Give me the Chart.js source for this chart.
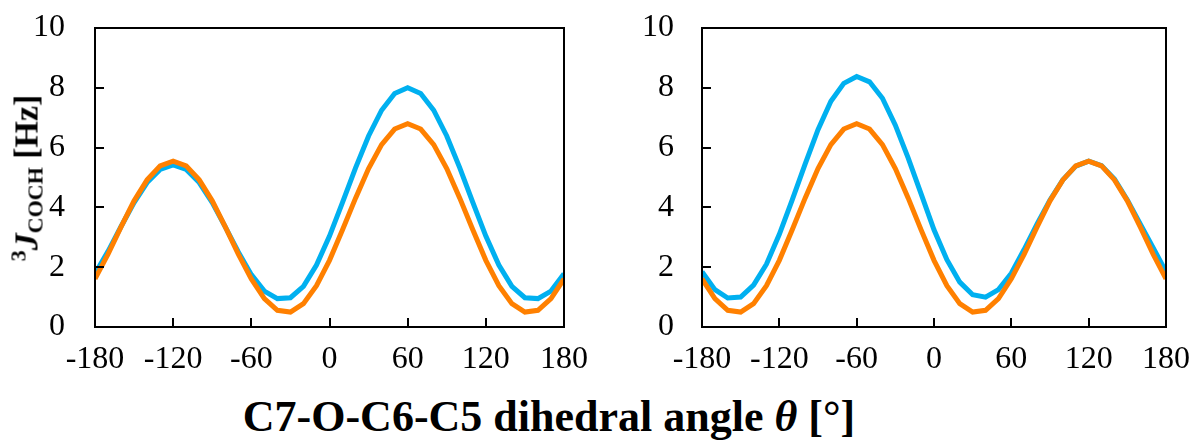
<!DOCTYPE html>
<html>
<head>
<meta charset="utf-8">
<script src="https://cdn.jsdelivr.net/npm/chart.js@4/dist/chart.umd.min.js"></script>
<style>
  body { margin: 0; background: #fff; }
  #wrap { position: relative; width: 1192px; height: 440px; overflow: hidden; font-family: "Liberation Serif", "Times New Roman", serif; }
  canvas { position: absolute; top: 0; }
  #ytitle {
    position: absolute; left: 27px; top: 178px;
    transform: translate(-50%, -50%) rotate(-90deg);
    white-space: nowrap; font-weight: bold; font-size: 34px; line-height: 1;
  }
  #ytitle sup { font-size: 22px; vertical-align: 12px; font-weight: bold; }
  #ytitle sub { font-size: 22px; vertical-align: -5px; }
  #xtitle {
    position: absolute; left: 549px; top: 417px;
    transform: translate(-50%, -50%);
    white-space: nowrap; font-weight: bold; font-size: 44px; line-height: 1;
  }
</style>
</head>
<body>
<div id="wrap">
  <canvas id="left" width="596" height="380" style="left:0"></canvas>
  <canvas id="right" width="596" height="380" style="left:596px"></canvas>
  <div id="ytitle"><sup>3</sup><i>J</i><sub>COCH</sub> [Hz]</div>
  <div id="xtitle">C7-O-C6-C5 dihedral angle <i>θ</i> [°]</div>
</div>
<script>
// dihedral angle in degrees, every 10°
var angles = [-180, -170, -160, -150, -140, -130, -120, -110, -100, -90, -80, -70, -60,
    -50, -40, -30, -20, -10, 0, 10, 20, 30, 40, 50, 60, 70, 80, 90, 100, 110, 120,
    130, 140, 150, 160, 170, 180];

// coupling constants (Hz), left panel
var leftOrange = [1.61, 2.44, 3.35, 4.22, 4.92, 5.39, 5.55, 5.39, 4.92, 4.22, 3.35, 2.44, 1.61,
    0.95, 0.56, 0.50, 0.78, 1.38, 2.23, 3.25, 4.31, 5.30, 6.10, 6.62, 6.80, 6.62, 6.10, 5.30,
    4.31, 3.25, 2.23, 1.38, 0.78, 0.50, 0.56, 0.95, 1.61];
var leftBlue = [1.78, 2.53, 3.36, 4.16, 4.83, 5.27, 5.42, 5.27, 4.83, 4.16, 3.35, 2.51, 1.75,
    1.20, 0.95, 0.98, 1.36, 2.07, 3.04, 4.17, 5.32, 6.39, 7.25, 7.81, 8.00, 7.81, 7.25, 6.39,
    5.32, 4.17, 3.04, 2.07, 1.36, 0.98, 0.95, 1.20, 1.78];

// coupling constants (Hz), right panel
var rightOrange = [1.61, 0.95, 0.56, 0.50, 0.78, 1.38, 2.23, 3.25, 4.31, 5.30, 6.10, 6.62, 6.80,
    6.62, 6.10, 5.30, 4.31, 3.25, 2.23, 1.38, 0.78, 0.50, 0.56, 0.95, 1.61, 2.44, 3.35, 4.22,
    4.92, 5.39, 5.55, 5.39, 4.92, 4.22, 3.35, 2.44, 1.61];
var rightBlue = [1.85, 1.25, 0.97, 1.00, 1.40, 2.10, 3.10, 4.25, 5.45, 6.60, 7.55, 8.15, 8.38,
    8.20, 7.65, 6.75, 5.65, 4.45, 3.25, 2.25, 1.50, 1.08, 1.00, 1.25, 1.80, 2.60, 3.45, 4.25,
    4.92, 5.38, 5.55, 5.40, 4.95, 4.25, 3.45, 2.65, 1.85];

var xTicks = [-180, -120, -60, 0, 60, 120, 180];
var yTicks = [0, 2, 4, 6, 8, 10];

var ORANGE = "#ff8000";
var BLUE = "#00b0f0";
var FONT = "'Liberation Serif', 'Times New Roman', serif";


function toPoints(values) {
    var pts = [];
    for (var i = 0; i < angles.length; i++)
        pts.push({ x: angles[i], y: values[i] });
    return pts;
}


// draws the box around the plot area and the inward tick marks
var frameAndTicks = {
    id: "frameAndTicks",
    afterDatasetsDraw: function (chart) {
        var ctx = chart.ctx;
        var a = chart.chartArea;
        var xs = chart.scales.x;
        var ys = chart.scales.y;
        ctx.save();
        ctx.strokeStyle = "#000";
        ctx.lineWidth = 2;
        ctx.beginPath();
        for (var i = 0; i < yTicks.length; i++) {
            var py = Math.round(ys.getPixelForValue(yTicks[i]));
            ctx.moveTo(a.left, py);
            ctx.lineTo(a.left + 9, py);
        }
        for (var j = 0; j < xTicks.length; j++) {
            var px = Math.round(xs.getPixelForValue(xTicks[j]));
            ctx.moveTo(px, a.bottom);
            ctx.lineTo(px, a.bottom - 9);
        }
        ctx.stroke();
        ctx.strokeRect(a.left, a.top, a.right - a.left, a.bottom - a.top);
        ctx.restore();
    }
};


function makeChart(canvasId, orange, blue, yWidth, padRight, yPad) {
    return new Chart(document.getElementById(canvasId), {
        type: "line",
        data: {
            datasets: [
                { data: toPoints(orange), borderColor: ORANGE, backgroundColor: ORANGE, borderWidth: 5, pointRadius: 0, tension: 0 },
                { data: toPoints(blue), borderColor: BLUE, backgroundColor: BLUE, borderWidth: 5, pointRadius: 0, tension: 0 }
            ]
        },
        options: {
            responsive: false,
            animation: false,
            devicePixelRatio: 1,
            layout: { padding: { top: 28, right: padRight, bottom: 0, left: 0 } },
            plugins: { legend: { display: false }, tooltip: { enabled: false } },
            scales: {
                x: {
                    type: "linear",
                    min: -180, max: 180,
                    afterBuildTicks: function (scale) {
                        scale.ticks = xTicks.map(function (v) { return { value: v }; });
                    },
                    afterFit: function (scale) {
                        // fixed axis band; end labels may hang past the plot edges
                        scale.height = 53;
                        scale.paddingLeft = 0;
                        scale.paddingRight = 0;
                    },
                    grid: { display: false },
                    border: { display: false },
                    ticks: { color: "#000", padding: 5, maxRotation: 0, font: { family: FONT, size: 32 } }
                },
                y: {
                    min: 0, max: 10,
                    afterBuildTicks: function (scale) {
                        scale.ticks = yTicks.map(function (v) { return { value: v }; });
                    },
                    afterFit: function (scale) {
                        scale.width = yWidth;
                        scale.paddingTop = 0;
                        scale.paddingBottom = 0;
                    },
                    grid: { display: false },
                    border: { display: false },
                    ticks: { color: "#000", padding: yPad, font: { family: FONT, size: 32 } }
                }
            }
        },
        plugins: [frameAndTicks]
    });
}


makeChart("left", leftOrange, leftBlue, 95, 32, 22);
makeChart("right", rightOrange, rightBlue, 106, 26, 20);
</script>
</body>
</html>
